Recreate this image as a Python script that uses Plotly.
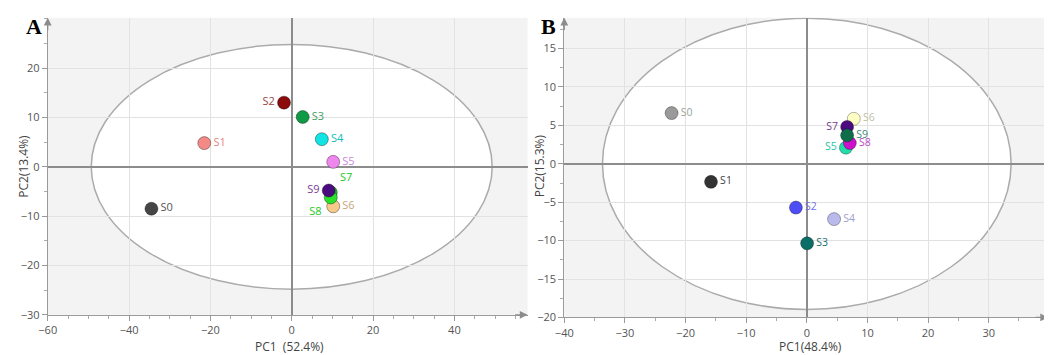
import plotly.graph_objects as go

samples = ["S0", "S1", "S2", "S3", "S4", "S5", "S6", "S7", "S8", "S9"]

# Panel A scores
a_pc1 = [-34.5, -21.5, -1.9, 2.7, 7.4, 10.2, 10.2, 9.6, 9.6, 9.1]
a_pc2 = [-8.5, 4.8, 13.0, 10.1, 5.6, 1.0, -8.0, -5.2, -6.2, -4.8]
a_colors = ["#454545", "#F48A86", "#8B0A0A", "#0F9A45", "#13E3E3", "#EE86EE",
            "#F7C98A", "#11D411", "#2BE02B", "#4B0A80"]
a_text_colors = ["#555555", "#E38582", "#9A4545", "#3E9E60", "#10BDBD", "#C888E0",
                 "#C9A67C", "#1BC81B", "#1BC81B", "#7A3A9A"]
a_textpos = ["middle right", "middle right", "middle left", "middle right", "middle right",
             "middle right", "middle right", "top right", "bottom left", "middle left"]

# Panel B scores
b_pc1 = [-22.3, -15.8, -1.8, 0.05, 4.5, 6.45, 7.75, 6.65, 7.1, 6.65]
b_pc2 = [6.6, -2.35, -5.7, -10.35, -7.2, 2.1, 5.85, 4.8, 2.7, 3.7]
b_colors = ["#9A9A9A", "#333333", "#4D4DF5", "#0A6E66", "#B9B9EC", "#22DDA8",
            "#FFFFC4", "#4B0A80", "#CC11CC", "#0E6E4A"]
b_text_colors = ["#A0A0A0", "#444444", "#7070E8", "#1A6E6E", "#A0A0D0", "#22C8A0",
                 "#C0C0A0", "#7A3A8A", "#B848C8", "#3A8A7A"]
b_textpos = ["middle right", "middle right", "middle right", "middle right", "middle right",
             "middle left", "middle right", "middle left", "middle right", "middle right"]

a_xticks = [-60, -40, -20, 0, 20, 40]
a_yticks = [-30, -20, -10, 0, 10, 20]
b_xticks = [-40, -30, -20, -10, 0, 10, 20, 30]
b_yticks = [-20, -15, -10, -5, 0, 5, 10, 15]

a_xrange = [-60, 58]
a_yrange = [-30, 30.2]
b_xrange = [-40, 39.8]
b_yrange = [-20, 19.0]

a_ellipse = (49.3, 24.8)
b_ellipse = (33.7, 18.95)

W, H = 1052, 355
a_dom_x = [31 / W, 515 / W]
a_dom_y = [1 - 313 / H, 1 - 10 / H]
b_dom_x = [552 / W, 1040 / W]
b_dom_y = [1 - 315.7 / H, 1 - 10 / H]

tick_font = dict(family="Open Sans", size=11, color="#555555")
label_font_family = "Open Sans"

fig = go.Figure()

fig.add_trace(go.Scatter(
    x=a_pc1, y=a_pc2, text=samples, mode="markers+text",
    textposition=a_textpos,
    textfont=dict(family=label_font_family, size=11, color=a_text_colors),
    marker=dict(size=13, color=a_colors, line=dict(width=1, color="rgba(0,0,0,0.35)")),
    xaxis="x", yaxis="y", showlegend=False, cliponaxis=False,
))
fig.add_trace(go.Scatter(
    x=b_pc1, y=b_pc2, text=samples, mode="markers+text",
    textposition=b_textpos,
    textfont=dict(family=label_font_family, size=10.5, color=b_text_colors),
    marker=dict(size=13, color=b_colors, line=dict(width=1, color="rgba(0,0,0,0.3)")),
    xaxis="x2", yaxis="y2", showlegend=False, cliponaxis=False,
))

def axis(domain, rng, tickvals, minor_dtick, anchor):
    return dict(
        domain=domain, range=rng, anchor=anchor, tickvals=tickvals,
        showgrid=True, gridcolor="#E2E2E2", gridwidth=1,
        zeroline=True, zerolinecolor="#8C8C8C", zerolinewidth=1.5,
        showline=True, linecolor="#9A9A9A", linewidth=1,
        ticks="outside", ticklen=5, tickcolor="#9A9A9A",
        minor=dict(dtick=minor_dtick, tick0=0, ticks="outside", ticklen=3,
                   tickcolor="#AAAAAA", showgrid=False),
        tickfont=tick_font, fixedrange=True,
    )

fig.update_layout(
    width=W, height=H,
    margin=dict(l=0, r=0, t=0, b=0),
    paper_bgcolor="white",
    plot_bgcolor="#F3F3F3",
    xaxis=axis(a_dom_x, a_xrange, a_xticks, 5, "y"),
    yaxis=axis(a_dom_y, a_yrange, a_yticks, 5, "x"),
    xaxis2=axis(b_dom_x, b_xrange, b_xticks, 5, "y2"),
    yaxis2=axis(b_dom_y, b_yrange, b_yticks, 2.5, "x2"),
)

# Confidence ellipses
for (ax, ay), xr, yr in [(a_ellipse, "x", "y"), (b_ellipse, "x2", "y2")]:
    fig.add_shape(type="circle", xref=xr, yref=yr, x0=-ax, x1=ax, y0=-ay, y1=ay,
                  fillcolor="white", line=dict(color="#ABABAB", width=1.5), layer="below")

annotations = []
# Axis arrows
for xr, yr, xrng, yrng in [("x", "y", a_xrange, a_yrange), ("x2", "y2", b_xrange, b_yrange)]:
    annotations.append(dict(xref=xr, yref=yr, x=xrng[1], y=yrng[0], ax=-14, ay=0,
                            axref="pixel", ayref="pixel", text="", showarrow=True,
                            arrowhead=2, arrowsize=1.3, arrowwidth=1.2, arrowcolor="#8C8C8C"))
    annotations.append(dict(xref=xr, yref=yr, x=xrng[0], y=yrng[1], ax=0, ay=14,
                            axref="pixel", ayref="pixel", text="", showarrow=True,
                            arrowhead=2, arrowsize=1.3, arrowwidth=1.2, arrowcolor="#8C8C8C"))

title_font = dict(family="Open Sans", size=12, color="#444444")
annotations += [
    dict(xref="paper", yref="paper", x=275 / W, y=1 - 345 / H, text="PC1  (52.4%)",
         showarrow=False, font=title_font, xanchor="center", yanchor="middle"),
    dict(xref="paper", yref="paper", x=800 / W, y=1 - 345 / H, text="PC1(48.4%)",
         showarrow=False, font=title_font, xanchor="center", yanchor="middle"),
    dict(xref="paper", yref="paper", x=7 / W, y=1 - 161 / H, text="PC2(13.4%)", textangle=-90,
         showarrow=False, font=title_font, xanchor="center", yanchor="middle"),
    dict(xref="paper", yref="paper", x=527 / W, y=1 - 161 / H, text="PC2(15.3%)", textangle=-90,
         showarrow=False, font=title_font, xanchor="center", yanchor="middle"),
    dict(xref="paper", yref="paper", x=17 / W, y=1 - 4 / H, text="<b>A</b>",
         showarrow=False, font=dict(family="Liberation Serif", size=22, color="black"),
         xanchor="center", yanchor="top"),
    dict(xref="paper", yref="paper", x=536 / W, y=1 - 4 / H, text="<b>B</b>",
         showarrow=False, font=dict(family="Liberation Serif", size=22, color="black"),
         xanchor="center", yanchor="top"),
]
fig.update_layout(annotations=annotations)

fig.write_html("out.html")
